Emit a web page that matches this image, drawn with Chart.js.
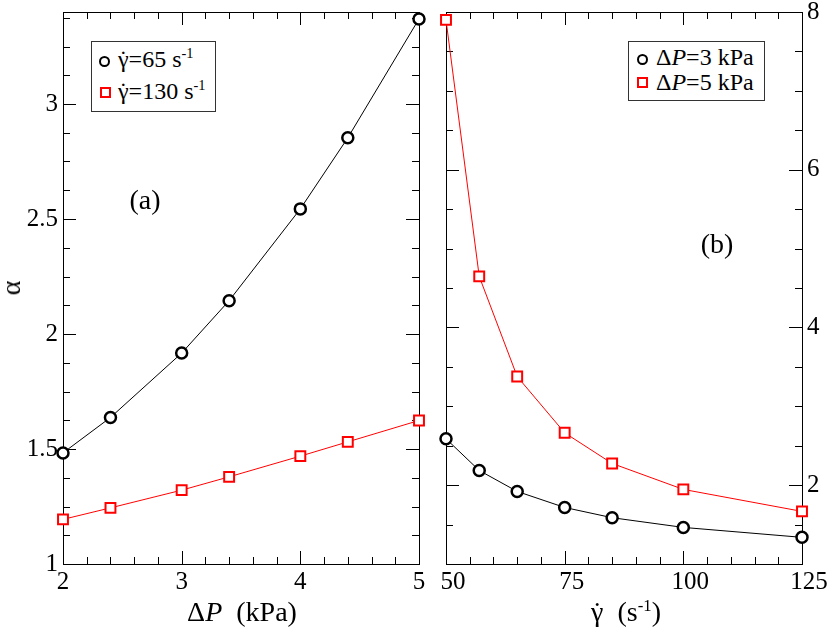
<!DOCTYPE html>
<html>
<head>
<meta charset="utf-8">
<script src="https://cdn.jsdelivr.net/npm/chart.js@4.4.1/dist/chart.umd.min.js"></script>
<style>
  html, body { margin: 0; padding: 0; background: #fff; }
  #wrap { position: relative; width: 831px; height: 629px; overflow: hidden; font-family: "Liberation Serif", "Times New Roman", serif; color: #000; }
  canvas { position: absolute; top: 0; }
  .t { position: absolute; white-space: nowrap; line-height: 1; }
  .c { transform: translate(-50%, -50%); }
  .gd { position: relative; display: inline-block; }
  .gd::after { content: '\02D9'; position: absolute; left: 0; right: 0; top: 0; text-align: center; }
  sup { font-size: 0.6em; vertical-align: baseline; position: relative; top: -0.6em; line-height: 0; }
  .box { position: absolute; border: 1px solid #333; background: #fff; }
  .mk { position: absolute; box-sizing: border-box; }
</style>
</head>
<body>
<div id="wrap">
  <canvas id="chartA" width="432" height="629" style="left:0"></canvas>
  <canvas id="chartB" width="399" height="629" style="left:432px"></canvas>

  <!-- Achsentitel und Panel-Beschriftung -->
  <div class="t" style="left:11px;top:288px;font-size:28px;transform:translate(-50%,-50%) rotate(-90deg)">α</div>
  <div class="t c" style="left:242px;top:612px;font-size:28px">Δ<i>P</i>&nbsp; (kPa)</div>
  <div class="t c" style="left:626px;top:612px;font-size:28px"><span class="gd">γ</span>&nbsp; (s<sup>-1</sup>)</div>
  <div class="t c" style="left:145px;top:200px;font-size:28px">(a)</div>
  <div class="t c" style="left:717px;top:244px;font-size:28px">(b)</div>

  <!-- Legende (a) -->
  <div class="box" style="left:91px;top:41px;width:123px;height:69px"></div>
  <div class="mk" style="left:99px;top:56px;width:11px;height:11px;border:2.5px solid #000;border-radius:50%"></div>
  <div class="t" style="left:118px;top:46.6px;font-size:24px"><span class="gd">γ</span>=65 s<sup>-1</sup></div>
  <div class="mk" style="left:100px;top:87px;width:11px;height:11px;border:2px solid #f00"></div>
  <div class="t" style="left:118px;top:79px;font-size:24px"><span class="gd">γ</span>=130 s<sup>-1</sup></div>

  <!-- Legende (b) -->
  <div class="box" style="left:628px;top:41px;width:135px;height:58px"></div>
  <div class="mk" style="left:637px;top:54px;width:11px;height:11px;border:2.5px solid #000;border-radius:50%"></div>
  <div class="t" style="left:656px;top:45.2px;font-size:24px">Δ<i>P</i>=3 kPa</div>
  <div class="mk" style="left:637px;top:77px;width:11px;height:11px;border:2px solid #f00"></div>
  <div class="t" style="left:656px;top:69.6px;font-size:24px">Δ<i>P</i>=5 kPa</div>
</div>

<script>
// Panel (a): alpha ueber Druckdifferenz
const dpKPa = [2, 2.4, 3, 3.4, 4, 4.4, 5];
const alphaShear65 = [1.483, 1.637, 1.917, 2.145, 2.544, 2.853, 3.37];
const alphaShear130 = [1.194, 1.244, 1.321, 1.379, 1.469, 1.531, 1.624];

// Panel (b): alpha ueber Scherrate
const shearRate = [50, 57, 65, 75, 85, 100, 125];
const alphaDP3 = [2.588, 2.186, 1.92, 1.717, 1.587, 1.464, 1.338];
const alphaDP5 = [7.90, 4.647, 3.377, 2.664, 2.275, 1.946, 1.667];

// Achsenbeschriftungen
const dpTicks = [2, 3, 4, 5];
const alphaTicksA = [1, 1.5, 2, 2.5, 3];
const shearTicks = [50, 75, 100, 125];
const alphaTicksB = [2, 4, 6, 8];

const serif = '"Liberation Serif", "Times New Roman", serif';
Chart.defaults.font.family = serif;
Chart.defaults.color = '#000';

// Rahmen + nach innen zeigende Ticks (Haupt- und Nebenticks, alle vier Seiten)
const innerTicks = {
  id: 'innerTicks',
  beforeDatasetsDraw(chart, args, opts) {
    const { ctx, chartArea: a } = chart;
    const xs = chart.scales.x, ys = chart.scales.y;
    ctx.save();
    ctx.strokeStyle = '#000';
    ctx.lineWidth = 1;
    ctx.strokeRect(Math.round(a.left) + 0.5, Math.round(a.top) + 0.5,
      Math.round(a.right - a.left), Math.round(a.bottom - a.top));

    const steps = (min, max, step) => {
      const out = [];
      const n = Math.round((max - min) / step);
      for (let i = 0; i <= n; i++) out.push(min + i * step);
      return out;
    };
    const drawX = (v, len) => {
      const px = Math.round(xs.getPixelForValue(v)) + 0.5;
      ctx.beginPath();
      ctx.moveTo(px, a.bottom); ctx.lineTo(px, a.bottom - len);
      ctx.moveTo(px, a.top); ctx.lineTo(px, a.top + len);
      ctx.stroke();
    };
    const drawY = (v, len) => {
      const py = Math.round(ys.getPixelForValue(v)) + 0.5;
      ctx.beginPath();
      ctx.moveTo(a.left, py); ctx.lineTo(a.left + len, py);
      ctx.moveTo(a.right, py); ctx.lineTo(a.right - len, py);
      ctx.stroke();
    };
    steps(opts.xMinorFrom, xs.max, opts.xMinor).forEach(v => drawX(v, 7));
    opts.xMajor.forEach(v => drawX(v, 13));
    steps(opts.yMinorFrom, ys.max, opts.yMinor).forEach(v => { if (v >= ys.min) drawY(v, 7); });
    opts.yMajor.forEach(v => drawY(v, 13));
    ctx.restore();
  }
};

function makeScales(xMin, xMax, xTicks, xLabelOffset, yMin, yMax, yTicks, yPos, yWidth) {
  return {
    x: {
      type: 'linear', min: xMin, max: xMax, position: 'bottom',
      grid: { display: false, drawTicks: false }, border: { display: false },
      ticks: { font: { size: 25 }, color: '#000', padding: 3, maxRotation: 0, autoSkip: false,
               labelOffset: xLabelOffset, callback: v => String(v) },
      afterBuildTicks: s => { s.ticks = xTicks.map(v => ({ value: v })); },
      afterFit: s => { s.height = 65; s.paddingLeft = 0; s.paddingRight = 0; }
    },
    y: {
      type: 'linear', min: yMin, max: yMax, position: yPos,
      grid: { display: false, drawTicks: false }, border: { display: false },
      ticks: { font: { size: 25 }, color: '#000', padding: 5, autoSkip: false,
               callback: v => String(v) },
      afterBuildTicks: s => { s.ticks = yTicks.map(v => ({ value: v })); },
      afterFit: s => { s.width = yWidth; s.paddingTop = 0; s.paddingBottom = 0; }
    }
  };
}

const blackSet = (data) => ({
  data, borderColor: '#000', borderWidth: 1, tension: 0, clip: false,
  pointStyle: 'circle', pointRadius: 5.5, pointBorderWidth: 2.5,
  pointBorderColor: '#000', pointBackgroundColor: '#fff'
});
const redSet = (data) => ({
  data, borderColor: '#f00', borderWidth: 1, tension: 0, clip: false,
  pointStyle: 'rect', pointRadius: 7, pointBorderWidth: 2,
  pointBorderColor: '#f00', pointBackgroundColor: '#fff'
});

new Chart(document.getElementById('chartA'), {
  type: 'line',
  data: {
    datasets: [
      { label: 'γ̇=65 s-1', ...blackSet(dpKPa.map((x, i) => ({ x, y: alphaShear65[i] }))) },
      { label: 'γ̇=130 s-1', ...redSet(dpKPa.map((x, i) => ({ x, y: alphaShear130[i] }))) }
    ]
  },
  options: {
    responsive: false, animation: false,
    layout: { padding: { left: 0, right: 13, top: 12, bottom: 0 } },
    scales: makeScales(2, 5, dpTicks, 0, 1, 3.4, alphaTicksA, 'left', 63),
    plugins: {
      legend: { display: false }, tooltip: { enabled: false },
      innerTicks: { xMajor: dpTicks, xMinor: 0.2, xMinorFrom: 2, yMajor: alphaTicksA, yMinor: 0.125, yMinorFrom: 1 }
    }
  },
  plugins: [innerTicks]
});

new Chart(document.getElementById('chartB'), {
  type: 'line',
  data: {
    datasets: [
      { label: 'ΔP=3 kPa', ...blackSet(shearRate.map((x, i) => ({ x, y: alphaDP3[i] }))) },
      { label: 'ΔP=5 kPa', ...redSet(shearRate.map((x, i) => ({ x, y: alphaDP5[i] }))) }
    ]
  },
  options: {
    responsive: false, animation: false,
    layout: { padding: { left: 14, right: 0, top: 12, bottom: 0 } },
    scales: makeScales(50, 125, shearTicks, 7, 1, 8, alphaTicksB, 'right', 29),
    plugins: {
      legend: { display: false }, tooltip: { enabled: false },
      innerTicks: { xMajor: shearTicks, xMinor: 5, xMinorFrom: 50, yMajor: alphaTicksB, yMinor: 0.5, yMinorFrom: 1 }
    }
  },
  plugins: [innerTicks]
});
</script>
</body>
</html>
